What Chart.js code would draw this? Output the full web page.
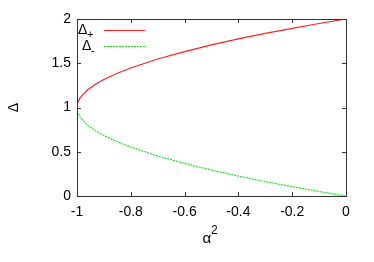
<!DOCTYPE html>
<html>
<head>
<meta charset="utf-8">
<script src="https://cdn.jsdelivr.net/npm/chart.js@4"></script>
<style>
  html, body { margin: 0; padding: 0; background: #fff; }
  canvas { display: block; }
</style>
</head>
<body>
<canvas id="c" width="374" height="262"></canvas>
<script>
// values
const alpha2 = [-1, -0.9995, -0.998, -0.995, -0.99, -0.98, -0.96, -0.93, -0.9, -0.85, -0.8, -0.7, -0.6, -0.5, -0.4, -0.3, -0.2, -0.1, 0];
const deltaPlus = [1, 1.022, 1.045, 1.07, 1.1, 1.14, 1.2, 1.265, 1.316, 1.387, 1.447, 1.548, 1.632, 1.707, 1.775, 1.837, 1.894, 1.949, 2];
const deltaMinus = [1, 0.978, 0.955, 0.93, 0.9, 0.86, 0.8, 0.735, 0.684, 0.613, 0.553, 0.452, 0.368, 0.293, 0.225, 0.163, 0.106, 0.051, 0];
const seriesNames = ["+", "-"];
const yTitle = "Δ";

const FONT = "Liberation Sans, Arial, sans-serif";

// gnuplot style frame with ticks pointing inwards
const frame = {
  id: "frame",
  afterDraw(chart) {
    const ctx = chart.ctx;
    const a = chart.chartArea;
    const xs = chart.scales.x, ys = chart.scales.y;
    ctx.save();
    ctx.strokeStyle = "#333";
    ctx.lineWidth = 1;
    ctx.beginPath();
    xs.ticks.forEach(t => {
      const px = Math.round(xs.getPixelForValue(t.value)) + 0.5;
      ctx.moveTo(px, a.bottom); ctx.lineTo(px, a.bottom - 4);
      ctx.moveTo(px, a.top); ctx.lineTo(px, a.top + 4);
    });
    ys.ticks.forEach(t => {
      const py = Math.round(ys.getPixelForValue(t.value)) + 0.5;
      ctx.moveTo(a.left, py); ctx.lineTo(a.left + 4, py);
      ctx.moveTo(a.right, py); ctx.lineTo(a.right - 4, py);
    });
    ctx.stroke();
    ctx.strokeRect(Math.round(a.left) + 0.5, Math.round(a.top) + 0.5,
      Math.round(a.right - a.left), Math.round(a.bottom - a.top));

    // x title: alpha with superscript 2
    const cx = (a.left + a.right) / 2;
    ctx.fillStyle = "#000";
    ctx.textBaseline = "alphabetic";
    ctx.textAlign = "left";
    ctx.font = "15px " + FONT;
    ctx.fillText("α", cx - 9, 243);
    ctx.font = "12px " + FONT;
    ctx.fillText("2", cx - 0.5, 234);

    // legend: label then line sample
    chart.data.datasets.forEach((ds, i) => {
      const y = a.top + 11 + i * 16;
      const dx = i === 1 ? 4 : 0;
      ctx.fillStyle = "#000";
      ctx.textBaseline = "middle";
      ctx.textAlign = "left";
      ctx.font = "14px " + FONT;
      ctx.fillText("Δ", 78 + dx, y);
      ctx.font = "11px " + FONT;
      ctx.fillText(seriesNames[i], 87 + dx, y + 5);
      ctx.strokeStyle = ds.borderColor;
      ctx.lineWidth = ds.borderWidth;
      ctx.setLineDash(ds.borderDash || []);
      ctx.beginPath();
      ctx.moveTo(104, y + 0.5);
      ctx.lineTo(145, y + 0.5);
      ctx.stroke();
      ctx.setLineDash([]);
    });
    ctx.restore();
  }
};

const fmt = v => String(Number(Number(v).toFixed(2)));

new Chart(document.getElementById("c"), {
  type: "line",
  data: {
    labels: alpha2,
    datasets: [
      {
        label: "Δ+",
        data: alpha2.map((x, i) => ({ x: x, y: deltaPlus[i] })),
        borderColor: "#ff2020",
        borderWidth: 1.2,
        pointRadius: 0,
        fill: false,
      },
      {
        label: "Δ-",
        data: alpha2.map((x, i) => ({ x: x, y: deltaMinus[i] })),
        borderColor: "#20e020",
        borderWidth: 1.2,
        borderDash: [2, 1],
        pointRadius: 0,
        fill: false,
      },
    ],
  },
  options: {
    responsive: false,
    animation: false,
    layout: { padding: { left: 0, top: 19, right: 28, bottom: 0 } },
    plugins: {
      legend: { display: false },
      tooltip: { enabled: false },
    },
    scales: {
      x: {
        type: "linear",
        min: -1,
        max: 0,
        grid: { display: false, drawTicks: false },
        border: { display: false },
        ticks: {
          stepSize: 0.2,
          padding: 8,
          color: "#000",
          font: { family: FONT, size: 14 },
          maxRotation: 0,
          callback: fmt,
        },
        afterFit(s) { s.height = 66; },
      },
      y: {
        min: 0,
        max: 2,
        grid: { display: false, drawTicks: false },
        border: { display: false },
        ticks: {
          stepSize: 0.5,
          padding: 6,
          color: "#000",
          font: { family: FONT, size: 14 },
          callback: fmt,
        },
        title: {
          display: true,
          text: yTitle,
          color: "#000",
          font: { family: FONT, size: 14 },
          padding: { top: 6, bottom: 24 },
        },
        afterFit(s) { s.width = 77; },
      },
    },
  },
  plugins: [frame],
});
</script>
</body>
</html>
